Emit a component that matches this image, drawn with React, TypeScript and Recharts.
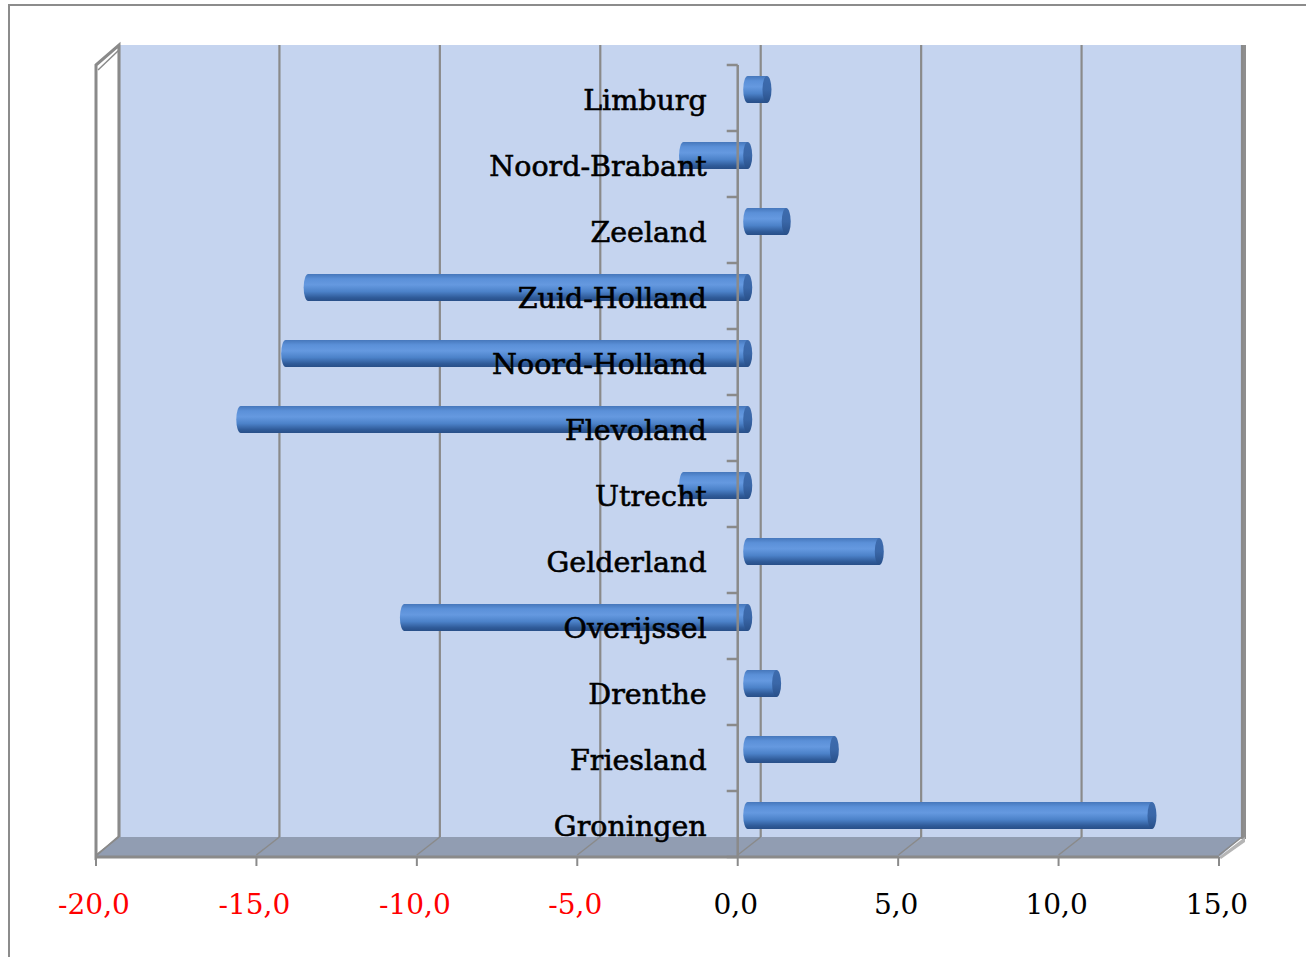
import React from "react"
import { BarChart, Bar, XAxis, YAxis, ReferenceArea, ReferenceLine } from "recharts"

const provinces = [
  "Limburg",
  "Noord-Brabant",
  "Zeeland",
  "Zuid-Holland",
  "Noord-Holland",
  "Flevoland",
  "Utrecht",
  "Gelderland",
  "Overijssel",
  "Drenthe",
  "Friesland",
  "Groningen",
]
const values = [0.6, -2.0, 1.2, -13.7, -14.4, -15.8, -2.0, 4.1, -10.7, 0.9, 2.7, 12.6]
const xTicks = [-20, -15, -10, -5, 0, 5, 10, 15]
const xDomain = [-20, 15]

const data = provinces.map((name, i) => ({ name, value: values[i] }))

const W = 1296
const H = 951
const M = { top: 59, right: 87, bottom: 40, left: 85 }
const X_AXIS_H = 60
const Y_AXIS_W = 1
const PLOT_L = M.left + Y_AXIS_W
const PLOT_W = W - PLOT_L - M.right
const PLOT_H = H - M.top - M.bottom - X_AXIS_H
const BAND = PLOT_H / provinces.length
const xPos = (v: number) => PLOT_L + (PLOT_W * (v - xDomain[0])) / (xDomain[1] - xDomain[0])
const ZERO_X = xPos(0)

// 3D depth of the walls and of the bars
const DX = 23
const DY = -20
const BAR_DX = 10
const BAR_DY = -9
const GRID = "#8a8a8a"

function Walls(props: any) {
  const { x, y, width, height } = props
  const bottom = y + height
  const right = x + width
  return (
    <g>
      <rect x={x + DX} y={y + DY} width={width} height={height} fill="#c5d4ef" />
      <rect x={right + DX - 1} y={y + DY} width={5} height={height + 2} fill="#8e8e8e" />
      <polygon
        points={`${x},${y} ${x + DX},${y + DY} ${x + DX},${bottom + DY} ${x},${bottom}`}
        fill="#fff"
        stroke={GRID}
        strokeWidth={3}
      />
      <line x1={x + 2} y1={y + 5} x2={x + DX} y2={y + DY + 5} stroke={GRID} strokeWidth={1.5} />
      <polygon
        points={`${x},${bottom} ${right},${bottom} ${right + DX},${bottom + DY} ${x + DX},${bottom + DY}`}
        fill="#919db2"
      />
      <polygon
        points={`${right},${bottom} ${right + DX + 3},${bottom + DY} ${right + DX + 3},${bottom + DY + 5} ${right + 2},${bottom + 2}`}
        fill="#b5b5b5"
      />
      {xTicks.map((t) => {
        const gx = x + (width * (t - xDomain[0])) / (xDomain[1] - xDomain[0])
        return (
          <g key={t}>
            <line x1={gx + DX} x2={gx + DX} y1={y + DY} y2={bottom + DY} stroke={GRID} strokeWidth={2.2} />
            <line x1={gx} x2={gx + DX} y1={bottom - 2} y2={bottom + DY} stroke={GRID} strokeWidth={1.5} />
          </g>
        )
      })}
    </g>
  )
}

function Cylinder(props: any) {
  const { x, y, width, height } = props
  if (!height) return null
  const left = Math.min(x, x + width) + BAR_DX
  const right = Math.max(x, x + width) + BAR_DX
  const top = y + BAR_DY
  const bottom = top + height
  const rx = 4.5
  const ry = height / 2
  return (
    <g>
      <path
        d={`M ${left} ${top} L ${right} ${top} L ${right} ${bottom} L ${left} ${bottom} A ${rx} ${ry} 0 0 1 ${left} ${top} Z`}
        fill="url(#cyl)"
      />
      <ellipse cx={right} cy={top + ry} rx={rx} ry={ry} fill="url(#cap)" />
    </g>
  )
}

function CategoryTick(props: any) {
  const { y, payload, index } = props
  const last = index === provinces.length - 1
  return (
    <g>
      <line x1={ZERO_X - 11} x2={ZERO_X} y1={y - BAND / 2} y2={y - BAND / 2} stroke={GRID} strokeWidth={2.5} />
      {last && (
        <line x1={ZERO_X - 11} x2={ZERO_X} y1={y + BAND / 2} y2={y + BAND / 2} stroke={GRID} strokeWidth={2.5} />
      )}
      <text
        x={ZERO_X - 31}
        y={y + 12}
        textAnchor="end"
        fontFamily="'DejaVu Serif', serif"
        fontSize={28.5}
        fill="#000"
        stroke="#000"
        strokeWidth={0.6}
      >
        {payload.value}
      </text>
    </g>
  )
}

function ValueTick(props: any) {
  const { x, y, payload } = props
  const v = payload.value as number
  return (
    <text
      x={x - 2}
      y={y + 46}
      textAnchor="middle"
      fontFamily="'DejaVu Serif', serif"
      fontSize={28}
      fill={v < 0 ? "#ff0000" : "#000"}
    >
      {v.toFixed(1).replace(".", ",")}
    </text>
  )
}

export default function App() {
  return (
    <div
      style={{
        position: "fixed",
        left: 8,
        top: 4,
        width: 1310,
        height: 960,
        border: "2px solid #8c8c8c",
        background: "#fff",
      }}
    >
      <BarChart width={W} height={H} data={data} layout="vertical" margin={M}>
        <defs>
          <linearGradient id="cyl" x1="0" y1="0" x2="0" y2="1">
            <stop offset="0%" stopColor="#4677bb" />
            <stop offset="18%" stopColor="#5b90d8" />
            <stop offset="40%" stopColor="#6599e0" />
            <stop offset="65%" stopColor="#4c82c9" />
            <stop offset="88%" stopColor="#2f5a98" />
            <stop offset="100%" stopColor="#284f88" />
          </linearGradient>
          <linearGradient id="cap" x1="0" y1="0" x2="0" y2="1">
            <stop offset="0%" stopColor="#3e6cae" />
            <stop offset="50%" stopColor="#3a67a8" />
            <stop offset="100%" stopColor="#284f88" />
          </linearGradient>
        </defs>
        <XAxis
          type="number"
          domain={xDomain}
          ticks={xTicks}
          height={X_AXIS_H}
          axisLine={{ stroke: GRID, strokeWidth: 3 }}
          tickLine={{ stroke: GRID, strokeWidth: 2 }}
          tickSize={9}
          tick={<ValueTick />}
          interval={0}
        />
        <ReferenceArea x1={xDomain[0]} x2={xDomain[1]} shape={<Walls />} ifOverflow="visible" />
        <ReferenceLine x={0} stroke={GRID} strokeWidth={2.5} />
        <Bar dataKey="value" barSize={27} shape={<Cylinder />} isAnimationActive={false} />
        <YAxis
          type="category"
          dataKey="name"
          width={Y_AXIS_W}
          axisLine={false}
          tickLine={false}
          tick={<CategoryTick />}
          interval={0}
        />
      </BarChart>
    </div>
  )
}
